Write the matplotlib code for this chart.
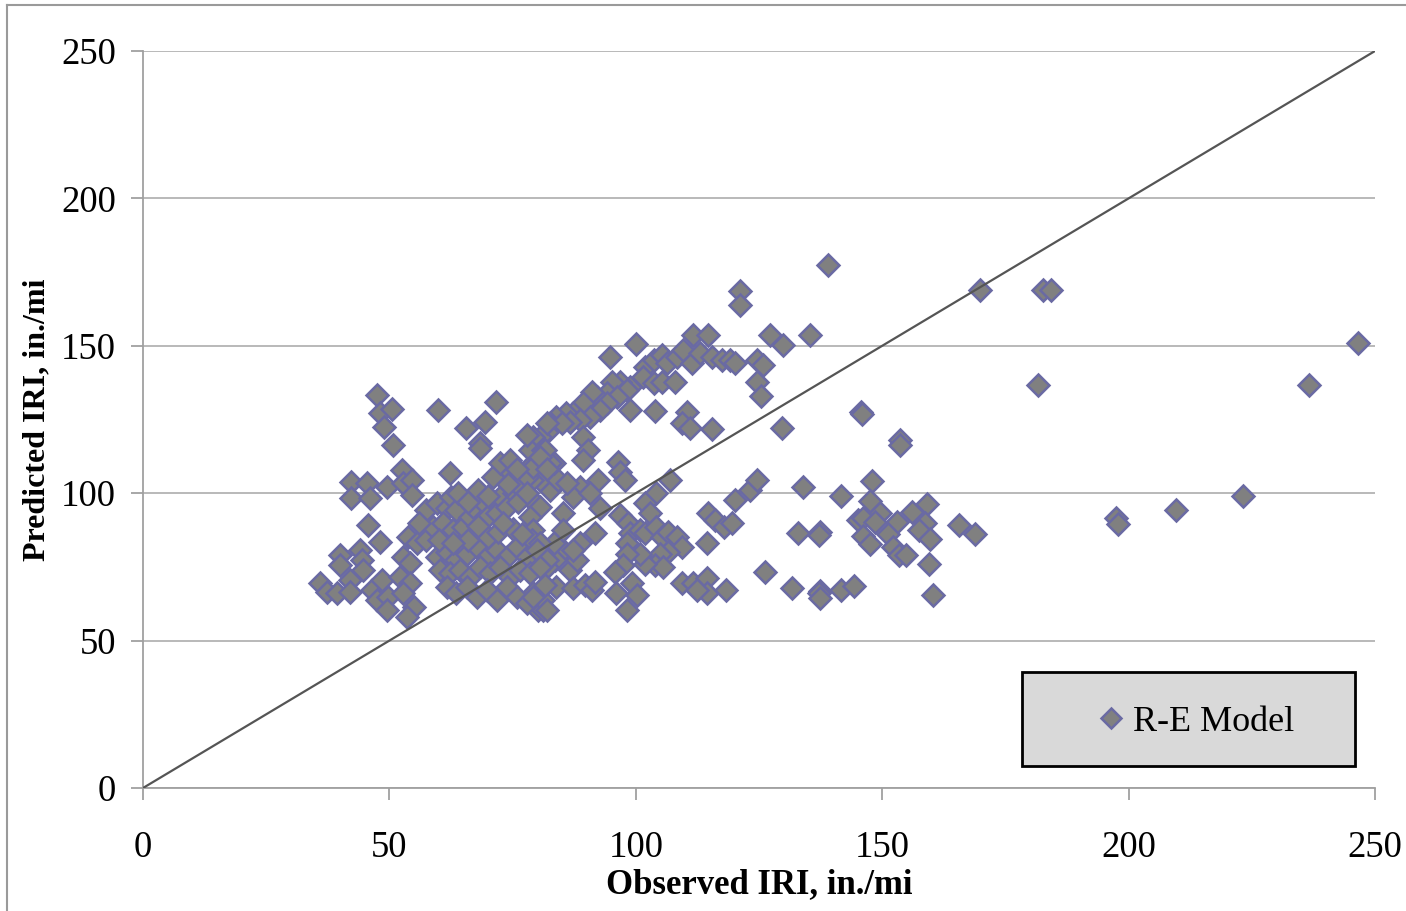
"""Predicted vs observed IRI scatter for the R-E model, with line of equality."""
import matplotlib
matplotlib.use("Agg")
import matplotlib.pyplot as plt
from matplotlib.lines import Line2D

# observed / predicted IRI (in./mi)
observed = [
    139.0, 169.8, 182.6, 184.3, 181.6, 236.6, 246.5, 145.7, 145.9, 153.7, 153.7, 148.0, 141.6, 147.6,
    223.2, 209.6, 197.4, 197.9, 159.0, 156.0, 149.6, 145.0, 146.1, 148.6, 153.0, 158.7, 157.5, 159.8,
    165.5, 168.9, 146.1, 147.6, 151.1, 152.2, 153.4, 154.8, 159.4, 160.4, 137.4, 137.4, 141.6, 144.2,
    121.1, 121.1, 111.7, 114.7, 100.0, 127.2, 129.9, 135.3, 94.8,
    101.9, 103.6, 105.3, 106.3, 108.3, 109.6, 111.4, 113.0, 115.4, 117.4, 119.1, 120.1,
    124.5, 125.9, 124.5, 125.4, 129.6, 101.5, 103.6, 105.3, 108.0,
    98.8, 103.9, 110.3, 109.3, 111.0, 115.4,
    98.8, 96.8, 95.1, 94.1, 92.1, 91.1, 89.3, 87.3, 85.9, 83.9, 82.6, 81.9, 80.6,
    98.2, 96.1, 94.1, 92.7, 90.7, 88.7, 86.6, 85.0, 89.3, 90.4, 89.3,
    96.4, 96.8, 97.8, 92.4, 106.9, 104.2, 101.9, 102.9, 88.7, 87.3, 85.3, 92.7,
    96.8, 98.5, 98.8, 98.2, 91.7, 100.9, 101.9, 104.2, 105.3, 106.6, 108.3, 109.3,
    106.6, 104.9, 103.9, 105.6, 101.9, 100.9, 98.2, 97.5, 95.8, 99.2, 100.2, 98.2,
    109.3, 111.7, 114.4, 114.4, 112.4, 118.4,
    114.7, 116.1, 117.8, 119.5, 120.1, 123.2, 124.5,
    114.4, 126.2, 131.6, 134.0, 133.0, 137.1, 137.1, 137.4,
    80.2, 81.2, 86.6, 88.0, 85.3, 83.6, 81.9, 83.3, 85.3,
    83.9, 87.3, 89.7, 91.1, 91.7, 79.2, 81.2, 88.7, 87.3,
    78.9, 80.6, 82.6, 80.6, 84.3, 86.0, 83.3, 81.2, 79.2, 78.9,
    78.5, 79.2, 78.9, 80.6, 79.2, 79.2, 78.5, 81.2, 82.6, 90.7,
    47.4, 48.1, 50.5, 48.9, 50.8, 59.9, 71.6, 65.5, 69.3, 68.4, 68.4, 77.9, 81.9, 81.6, 62.2,
    42.3, 42.3, 45.4, 46.1, 49.5, 52.5, 52.8, 54.5, 54.5,
    45.7, 40.0, 40.0, 44.0, 44.4, 48.1, 42.0, 44.7, 35.9, 37.3,
    39.3, 42.0, 46.4, 47.4, 49.8, 48.4,
    53.8, 55.5, 57.5, 52.8, 54.2, 52.2, 54.2, 52.8, 54.9, 53.5, 49.5,
    57.5, 59.6, 61.6, 62.6, 63.6,
    58.9, 60.9, 62.9, 65.0, 66.4, 67.0, 69.1, 69.8, 71.8, 72.5, 73.8, 75.2, 76.5, 77.9, 79.2, 80.6,
    81.9, 73.8, 71.1, 72.5, 74.5, 75.8,
    59.6, 61.6, 63.6, 65.7, 67.7, 69.8, 71.8, 73.8, 75.8, 77.9, 79.9, 81.9,
    60.3, 62.3, 64.3, 66.4, 68.4, 70.4, 72.4, 74.5, 76.5, 78.5, 80.6,
    61.6, 63.6, 65.7, 67.7, 69.8, 71.8, 73.8, 75.8, 77.9, 79.2, 81.9,
    56.0, 64.0, 66.0, 68.0, 70.0, 74.0, 76.0, 78.0, 70.0, 72.0, 66.0, 60.0, 63.0, 75.0, 77.0, 73.0,
    68.0, 81.6, 96.0,
]
predicted = [
    177.4, 168.9, 168.9, 168.9, 136.7, 136.7, 151.1, 127.7, 126.9, 118.2, 116.3, 104.0, 99.2, 97.5,
    99.2, 94.3, 91.6, 89.7, 96.3, 93.6, 93.3, 91.0, 91.7, 90.4, 90.2, 89.9, 87.5, 84.3,
    89.1, 86.1, 85.5, 82.6, 86.3, 81.8, 79.0, 79.0, 76.0, 65.6, 86.8, 66.7, 67.3, 68.6,
    168.7, 163.8, 153.7, 153.7, 150.6, 153.7, 150.3, 153.7, 146.3,
    142.9, 145.2, 146.9, 144.1, 146.3, 148.6, 144.1, 147.5, 146.3, 145.2, 145.2, 144.1,
    145.2, 143.5, 137.8, 133.1, 122.0, 139.5, 137.3, 137.8, 137.8,
    128.2, 127.9, 127.6, 123.7, 122.0, 121.8,
    136.1, 137.8, 137.8, 133.9, 132.7, 134.4, 130.5, 127.1, 127.1, 126.0, 123.7, 120.9, 119.2,
    135.0, 132.7, 130.5, 128.2, 126.0, 124.8, 124.2, 123.7, 119.2, 114.7, 111.3,
    110.7, 107.3, 104.5, 104.5, 104.5, 100.0, 96.6, 93.2, 102.2, 98.8, 93.2, 94.9,
    92.6, 89.8, 86.4, 83.0, 86.4, 87.5, 86.4, 88.6, 85.2, 86.9, 85.2, 81.8,
    80.1, 79.5, 75.6, 75.0, 76.1, 79.5, 79.5, 75.6, 73.4, 69.4, 65.5, 60.5,
    69.4, 69.4, 71.1, 66.0, 67.2, 67.2,
    93.2, 90.9, 88.6, 89.8, 97.7, 101.1, 104.5,
    83.0, 73.4, 67.7, 102.2, 86.4, 85.8, 66.0, 64.4,
    60.4, 60.4, 73.9, 77.3, 80.7, 77.3, 75.1, 83.0, 87.5,
    68.3, 67.8, 68.9, 67.2, 70.0, 66.0, 63.8, 83.0, 80.7,
    97.7, 95.4, 101.1, 104.5, 104.5, 103.4, 110.1, 112.4, 110.1, 104.5,
    92.0, 87.5, 84.1, 83.0, 78.5, 119.2, 114.7, 114.7, 110.1, 100.0,
    133.3, 127.1, 128.5, 122.6, 116.4, 128.2, 131.0, 122.0, 124.3, 116.9, 115.2, 119.7, 123.7, 114.7, 106.9,
    103.9, 98.3, 103.4, 98.3, 102.2, 107.9, 103.4, 104.5, 99.4,
    89.2, 79.0, 75.6, 80.7, 77.3, 83.5, 70.6, 73.9, 69.4, 66.6,
    66.0, 66.6, 67.2, 63.8, 64.9, 70.6,
    85.2, 83.0, 84.1, 78.5, 76.2, 71.7, 69.4, 66.0, 61.5, 58.1, 60.4,
    94.3, 96.6, 94.9, 98.8, 94.3,
    88.6, 89.8, 87.5, 88.6, 92.0, 95.4, 96.6, 92.0, 93.2, 98.8, 95.4, 100.0, 102.2, 105.6, 109.0, 112.4,
    108.1, 108.1, 105.6, 110.1, 111.3, 108.1,
    78.5, 80.2, 77.3, 79.5, 81.8, 78.5, 80.7, 78.5, 81.8, 78.5, 80.7, 77.3,
    73.9, 72.8, 73.9, 71.7, 75.1, 72.8, 75.1, 71.7, 73.9, 72.8, 75.1,
    68.3, 66.0, 68.3, 64.9, 67.2, 63.8, 68.3, 64.9, 62.6, 64.9, 60.4,
    90.0, 100.0, 97.0, 101.0, 99.0, 103.0, 97.0, 100.0, 85.0, 87.0, 84.0, 84.0, 83.0, 88.0, 86.0, 90.0,
    89.0, 68.9, 66.0,
]

axis_ticks = [0, 50, 100, 150, 200, 250]

plt.rcParams["font.family"] = ["Liberation Serif", "DejaVu Serif"]

fig = plt.figure(figsize=(14.06, 9.11), dpi=100)
ax = fig.add_axes([143 / 1406, 1 - 788 / 911, 1232 / 1406, 737 / 911])

# outer chart border (only left and top edges fall inside the image)
fig.add_artist(Line2D([7 / 1406, 7 / 1406], [0, 1 - 5 / 911], color="#9a9a9a", lw=1.5))
fig.add_artist(Line2D([7 / 1406, 1], [1 - 5 / 911, 1 - 5 / 911], color="#9a9a9a", lw=1.5))

ax.plot(observed, predicted, linestyle="none", marker="D", markersize=11,
        markerfacecolor="#808080", markeredgecolor="#6a6aa3", markeredgewidth=1.8,
        zorder=3, label="R-E Model")
ax.plot([0, 250], [0, 250], color="#555555", linewidth=1.6, zorder=4)

ax.set_xlim(0, 250)
ax.set_ylim(0, 250)
ax.set_xticks(axis_ticks)
ax.set_yticks(axis_ticks)
ax.yaxis.grid(True, color="#b3b3b3", linewidth=1.3)
ax.set_axisbelow(True)
for side in ["top", "right"]:
    ax.spines[side].set_visible(False)
for side in ["left", "bottom"]:
    ax.spines[side].set_color("#a0a0a0")
    ax.spines[side].set_linewidth(1.3)
ax.tick_params(axis="both", direction="out", length=8.5, width=1.3, color="#a0a0a0",
               labelsize=26.5)
ax.tick_params(axis="y", pad=11)
ax.tick_params(axis="x", pad=22)

ax.set_xlabel("Observed IRI, in./mi", fontsize=25, fontweight="bold", labelpad=2)
ax.set_ylabel("Predicted IRI, in./mi", fontsize=23, fontweight="bold", labelpad=7)

# legend box
box = plt.Rectangle((0.7135, 0.0299), 0.2703, 0.1275, transform=ax.transAxes,
                    facecolor="#d9d9d9", edgecolor="black", linewidth=2, zorder=5)
ax.add_patch(box)
leg = ax.legend(loc="center", bbox_to_anchor=(0.853, 0.0890), frameon=False,
                fontsize=26, handletextpad=0.1, handlelength=1.0, markerscale=0.9)
leg.set_zorder(6)

fig.savefig("out.png", dpi=100)
